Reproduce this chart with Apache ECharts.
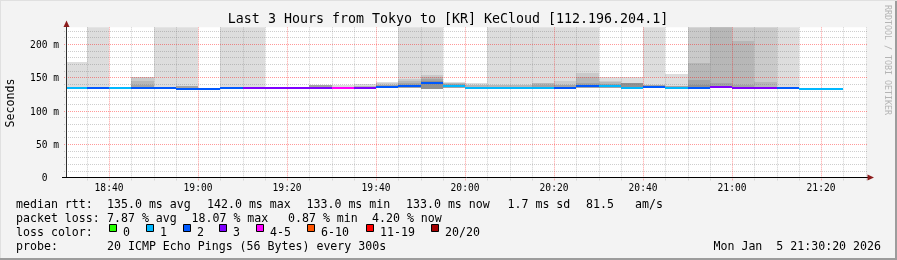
<!DOCTYPE html>
<html><head><meta charset="utf-8">
<script src="https://cdn.jsdelivr.net/npm/echarts@6/dist/echarts.min.js"></script>
<style>html,body{margin:0;padding:0;background:#f3f3f3}#c{width:897px;height:260px}</style>
</head><body><div id="c"></div>
<script>
// ---- data (minutes since midnight, 5-minute RRD steps) ----
const segStart = [1110,1115,1120,1125,1130,1135,1140,1145,1150,1155,1160,1165,1170,1175,1180,1185,1190,1195,1200,1205,1210,1215,1220,1225,1230,1235,1240,1245,1250,1255,1260,1265,1270,1275,1280];
const medianRtt = [134.5,134.5,134.5,134.5,134.5,133,133,134.5,134.5,134.5,134.5,134.5,134.5,134.5,136,137.5,142,137,134.5,134.5,134.5,134.5,134.5,136.5,137,134.5,136,134.5,134.5,136,134.5,134.5,134.5,133,133];
const lossPings = [1,2,1,2,2,2,2,2,3,3,3,3,4,3,2,2,2,1,1,1,1,1,2,2,1,1,2,1,2,3,3,3,2,1,1];
const smokeLow = [133,133,133,133,133,131.5,131.5,133,133,133,133,133,133,133,133.5,134,133,134,133,133,133,133,133,134,134,133,133.5,133,133,134,133,133,133,131.5,131.5];
// smoke band tops, outermost (lightest) to innermost (darkest); 300 = above the chart
const band1 = [173,300,null,null,300,300,null,300,300,null,null,null,138.5,140,143.5,300,300,143,142,300,300,300,300,300,150.5,150,300,155,null,null,null,null,300,null,null];
const band2 = [null,null,null,150.5,null,null,null,null,null,null,null,null,null,null,141,148,153,null,null,null,null,null,144,157,145,null,null,null,300,300,300,300,null,null,null];
const band3 = [null,null,null,144,null,null,null,null,null,null,null,null,null,137.5,null,144,150,141,139,138,138,141,null,150,143,null,null,null,171,300,205,143.5,null,null,null];
const band4 = [null,null,null,139,null,137,null,null,null,null,null,138,null,null,139,141,147,139.5,null,null,null,139,138,141,140,null,139,137,145.5,141,139,null,null,null,null];
const band5 = [null,null,null,null,null,null,null,null,null,null,null,null,null,null,null,null,144.5,null,null,null,null,null,null,null,null,141,null,null,139,null,null,null,null,null,null];
const lossLabels = ['0','1','2','3','4-5','6-10','11-19','20/20'];
const lossColors = ['#26ff00','#00b8ff','#0059ff','#7e00ff','#ff00ff','#ff5500','#ff0000','#a10000'];
const yTicks = [0,50,100,150,200];
const xTicks = [1120,1140,1160,1180,1200,1220,1240,1260,1280];
const STEP = 5;
const X_MIN = 1110 + 20/60, X_MAX = X_MIN + 180;
const Y_MIN = 0, Y_MAX = 225;

const SHADES = ['#dddddd','#cacaca','#b7b7b7','#a4a4a4','#919191'];
const FONT = '"DejaVu Sans Mono", monospace';

function lossIndex(p){ if(p<=3) return p; if(p<=5) return 4; if(p<=10) return 5; if(p<=19) return 6; return 7; }
function fmtTime(v){ const h=Math.floor(v/60), m=Math.round(v-h*60); return String(h).padStart(2,'0')+':'+String(m).padStart(2,'0'); }
function clip(r, cs){ return echarts.graphic.clipRectByRect(r,{x:cs.x,y:cs.y,width:cs.width,height:cs.height}); }

const smokeData = [];
[band1,band2,band3,band4,band5].forEach((b,k)=>b.forEach((top,i)=>{ if(top!=null) smokeData.push([segStart[i], segStart[i]+STEP, smokeLow[i], top, k]); }));
const medianData = segStart.map((t,i)=>[t, t+STEP, medianRtt[i], lossIndex(lossPings[i])]);

// grid lines: [value, orientation(0=vertical,1=horizontal), major]
const gridData = [];
for(let t=Math.ceil(X_MIN/5)*5; t<=X_MAX; t+=5){ if(!xTicks.includes(t)) gridData.push([t,0,0]); }
for(let v=10; v<Y_MAX; v+=10){ if(!yTicks.includes(v)) gridData.push([v,1,0]); }
xTicks.forEach(t=>gridData.push([t,0,1]));
yTicks.filter(v=>v>0).forEach(v=>gridData.push([v,1,1]));

const chart = echarts.init(document.getElementById('c'), null, {renderer:'canvas', width:897, height:260});

const graphic = [];
function txt(s,x,y,opt){ graphic.push(Object.assign({type:'text', z:100, style:Object.assign({text:s,x:x,y:y,font:'11.6px '+FONT,fill:'#000',align:'left',verticalAlign:'middle'}, opt||{})})); }
// title
txt('Last 3 Hours from Tokyo to [KR] KeCloud [112.196.204.1]', 448, 20, {font:'13.3px '+FONT, align:'center'});
// y name
graphic.push({type:'text', z:100, x:11, y:103, rotation:Math.PI/2, style:{text:'Seconds', x:0, y:0, font:'11.6px '+FONT, fill:'#000', align:'center', verticalAlign:'middle'}});
// rrdtool watermark
graphic.push({type:'text', z:100, x:887, y:60, rotation:-Math.PI/2, style:{text:'RRDTOOL / TOBI OETIKER', x:0, y:0, font:'8.3px '+FONT, fill:'#b4b4b4', align:'center', verticalAlign:'middle'}});
// legend rows
const R1=205, R2=219, R3=233, R4=247;
txt('median rtt:',16,R1); txt('135.0 ms avg',107,R1); txt('142.0 ms max',207,R1); txt('133.0 ms min',306.5,R1);
txt('133.0 ms now',406,R1); txt('1.7 ms sd',507.5,R1); txt('81.5',586,R1); txt('am/s',635,R1);
txt('packet loss:',16,R2); txt('7.87 % avg',107,R2); txt('18.07 % max',191.5,R2); txt('0.87 % min',288,R2); txt('4.20 % now',372,R2);
txt('loss color:',16,R3);
const boxX = [109,146,183,219,256,307,366,431];
lossLabels.forEach((l,i)=>{
  graphic.push({type:'rect', z:100, shape:{x:boxX[i]+0.5,y:224.5,width:7,height:7}, style:{fill:lossColors[i], stroke:'#000', lineWidth:1}});
  txt(l, boxX[i]+14, R3);
});
txt('probe:',16,R4); txt('20 ICMP Echo Pings (56 Bytes) every 300s',107,R4);
txt('Mon Jan  5 21:30:20 2026',881,R4,{align:'right'});
// axis extensions & arrows
graphic.push({type:'line', z:100, shape:{x1:66.5,y1:28,x2:66.5,y2:23}, style:{stroke:'#303030',lineWidth:1}});
graphic.push({type:'line', z:100, shape:{x1:62,y1:177.5,x2:66,y2:177.5}, style:{stroke:'#000',lineWidth:1}});
graphic.push({type:'line', z:100, shape:{x1:867,y1:177.5,x2:870,y2:177.5}, style:{stroke:'#000',lineWidth:1}});
graphic.push({type:'polygon', z:101, shape:{points:[[63.5,27],[66.5,20.5],[69.5,27]]}, style:{fill:'#8c1c1c'}});
graphic.push({type:'polygon', z:101, shape:{points:[[867.5,174.5],[874,177.5],[867.5,180.5]]}, style:{fill:'#8c1c1c'}});
// frame
graphic.push({type:'rect', z:100, shape:{x:0,y:258,width:897,height:2}, style:{fill:'#9c9c9c'}});
graphic.push({type:'rect', z:100, shape:{x:895,y:0,width:2,height:260}, style:{fill:'#9c9c9c'}});
graphic.push({type:'rect', z:100, shape:{x:0,y:0,width:897,height:1}, style:{fill:'#e0e0e0'}});
graphic.push({type:'rect', z:100, shape:{x:0,y:0,width:1,height:258}, style:{fill:'#e0e0e0'}});

const option = {
  animation:false,
  backgroundColor:'#f3f3f3',
  grid:{left:66, top:27.33, width:801, height:150, show:true, backgroundColor:'#ffffff', borderWidth:0, containLabel:false, outerBoundsMode:'none'},
  xAxis:{type:'value', min:X_MIN, max:X_MAX, z:6,
    axisLine:{show:true, onZero:false, lineStyle:{color:'#000', width:1}},
    axisTick:{show:false}, splitLine:{show:false},
    axisLabel:{customValues:xTicks, showMinLabel:true, showMaxLabel:true, color:'#000', fontFamily:'DejaVu Sans Mono', fontSize:9.6, margin:6,
      formatter:v=>xTicks.includes(Math.round(v*1000)/1000)?fmtTime(v):''}},
  yAxis:{type:'value', min:Y_MIN, max:Y_MAX, interval:50, z:6,
    axisLine:{show:true, lineStyle:{color:'#303030', width:1}},
    axisTick:{show:false}, splitLine:{show:false},
    axisLabel:{customValues:yTicks, color:'#000', fontFamily:'DejaVu Sans Mono', fontSize:9.6, margin:7,
      formatter:v=>yTicks.includes(v)?('{l|'+(v===0?'0  ':v+' m')+'}'):'',
      rich:{l:{fontFamily:'DejaVu Sans Mono', fontSize:9.6, color:'#000', padding:[3,0,0,0]}}}},
  series:[
    {type:'custom', name:'smoke', z:2, silent:true, data:smokeData, encode:{x:[0,1], y:[2,3]},
      renderItem:(params,api)=>{
        const a=api.coord([api.value(0),api.value(2)]), b=api.coord([api.value(1),api.value(3)]);
        const x0=Math.round(a[0]), x1=Math.round(b[0]), y0=Math.round(a[1]), y1=Math.round(b[1]);
        const r=clip({x:x0,y:y1,width:x1-x0,height:y0-y1}, params.coordSys);
        if(!r) return null;
        return {type:'rect', shape:r, style:{fill:SHADES[api.value(4)]}};
      }},
    {type:'custom', name:'grid', z:3, silent:true, data:gridData, encode:{x:0},
      renderItem:(params,api)=>{
        const cs=params.coordSys, v=api.value(0), major=api.value(2)===1;
        const stroke = major?'rgba(255,0,0,0.4)':'rgba(120,120,120,0.36)';
        if(api.value(1)===0){
          const x=Math.round(api.coord([v,0])[0])+0.5;
          return {type:'line', shape:{x1:x,y1:cs.y,x2:x,y2:cs.y+cs.height+3}, style:{stroke:stroke,lineWidth:1,lineDash:[1,1]}};
        } else {
          const y=Math.round(api.coord([X_MIN,v])[1])+0.5;
          return {type:'line', shape:{x1:cs.x-2,y1:y,x2:cs.x+cs.width,y2:y}, style:{stroke:stroke,lineWidth:1,lineDash:[1,1]}};
        }
      }},
    {type:'custom', name:'median', z:4, silent:true, data:medianData, encode:{x:[0,1], y:2},
      renderItem:(params,api)=>{
        const a=api.coord([api.value(0),api.value(2)]), b=api.coord([api.value(1),api.value(2)]);
        const x0=Math.round(a[0]), x1=Math.round(b[0]), y=Math.round(a[1]);
        const r=clip({x:x0,y:y-1,width:x1-x0,height:2}, params.coordSys);
        if(!r) return null;
        return {type:'rect', shape:r, style:{fill:lossColors[api.value(3)]}};
      }}
  ],
  graphic:graphic
};
chart.setOption(option);
</script>
</body></html>
